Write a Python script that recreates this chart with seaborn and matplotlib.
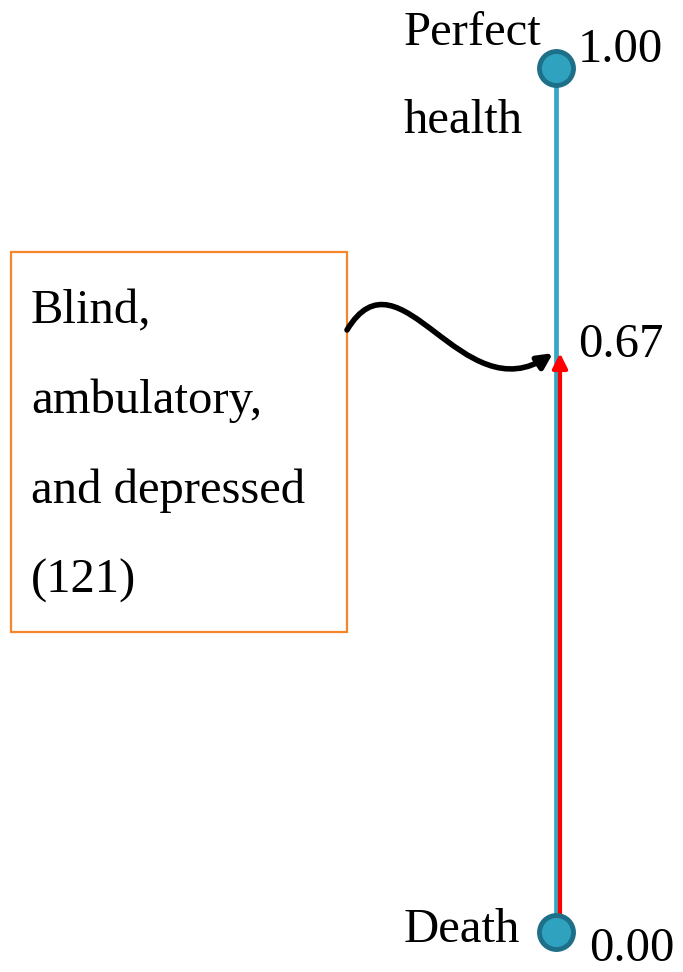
import numpy as np
import pandas as pd
import matplotlib.pyplot as plt
import seaborn as sns
from matplotlib.path import Path
from matplotlib.patches import FancyArrowPatch, Rectangle

# data
scale_values = [1.00, 0.67, 0.00]
end_values = [1.00, 0.00]
end_labels = ["Perfect", "health", "Death"]
state_value = 0.67
state_text = "Blind,\nambulatory,\nand depressed\n(121)"

# style
sns.set_theme(style="white")
plt.rcParams['font.family'] = ['Liberation Serif', 'DejaVu Serif']
plt.rcParams['text.color'] = 'black'

W, H = 683, 972
fig = plt.figure(figsize=(W / 100, H / 100), dpi=100)
ax = fig.add_axes([0, 0, 1, 1])

# y range: 1.00 sits 68 px from top, 0.00 sits 40 px above bottom
top_px, bot_px = 68, 932
span = bot_px - top_px
ax.set_xlim(0, W)
ax.set_ylim(-(H - bot_px) / span, 1 + top_px / span)
ax.axis('off')

def v_of(p):
    # value at a pixel row (from top)
    return (bot_px - p) / span

x_scale = 556
blue = '#35a7c3'

df = pd.DataFrame({'x': [x_scale] * len(end_values), 'y': end_values})
sns.lineplot(data=df, x='x', y='y', ax=ax, color=blue, linewidth=3.4,
             sort=False, zorder=1, estimator=None)

# red arrow from death up to the health state
ax.annotate('', xy=(x_scale + 4, state_value), xytext=(x_scale + 4, 0.0),
            arrowprops=dict(arrowstyle='-|>', color='red', lw=3,
                            mutation_scale=22, shrinkA=0, shrinkB=0),
            zorder=2)

sns.scatterplot(data=df, x='x', y='y', ax=ax, s=600, color='#2fa2bf',
                edgecolor='#1d7088', linewidth=3.5, zorder=3, legend=False)

# value labels
fs = 35
offsets = [(22, 6), (22, -4), (33, -29)]
for v, off in zip(scale_values, offsets):
    ax.annotate(f"{v:.2f}", xy=(x_scale, v), xytext=off,
                textcoords='offset pixels', fontsize=fs,
                va='baseline', ha='left')

# end labels
ax.annotate(end_labels[0], xy=(x_scale, end_values[0]), xytext=(-152, 23),
            textcoords='offset pixels', fontsize=fs, va='baseline')
ax.annotate(end_labels[1], xy=(x_scale, end_values[0]), xytext=(-152, -65),
            textcoords='offset pixels', fontsize=fs, va='baseline')
ax.annotate(end_labels[2], xy=(x_scale, end_values[1]), xytext=(-152, -10),
            textcoords='offset pixels', fontsize=fs, va='baseline')

# state box
bx0, bx1, by0, by1 = 11, 347, 252, 632
ax.add_patch(Rectangle((bx0, v_of(by1)), bx1 - bx0, v_of(by0) - v_of(by1),
                       fill=False, edgecolor='#f5862a', lw=1.6, zorder=4))
for i, line in enumerate(state_text.split("\n")):
    ax.text(31, v_of(323 + i * 90), line, fontsize=fs, va='baseline',
            ha='left')

# wavy connector from box to the 0.67 mark
pts = [(bx1, v_of(330)), (400, v_of(242)), (462, v_of(415)),
       (x_scale - 3, state_value)]
path = Path(pts, [Path.MOVETO, Path.CURVE4, Path.CURVE4, Path.CURVE4])
ax.add_patch(FancyArrowPatch(path=path, arrowstyle='-|>', color='black',
                             lw=4, mutation_scale=22, zorder=5))

fig.savefig('out.png', dpi=100)
